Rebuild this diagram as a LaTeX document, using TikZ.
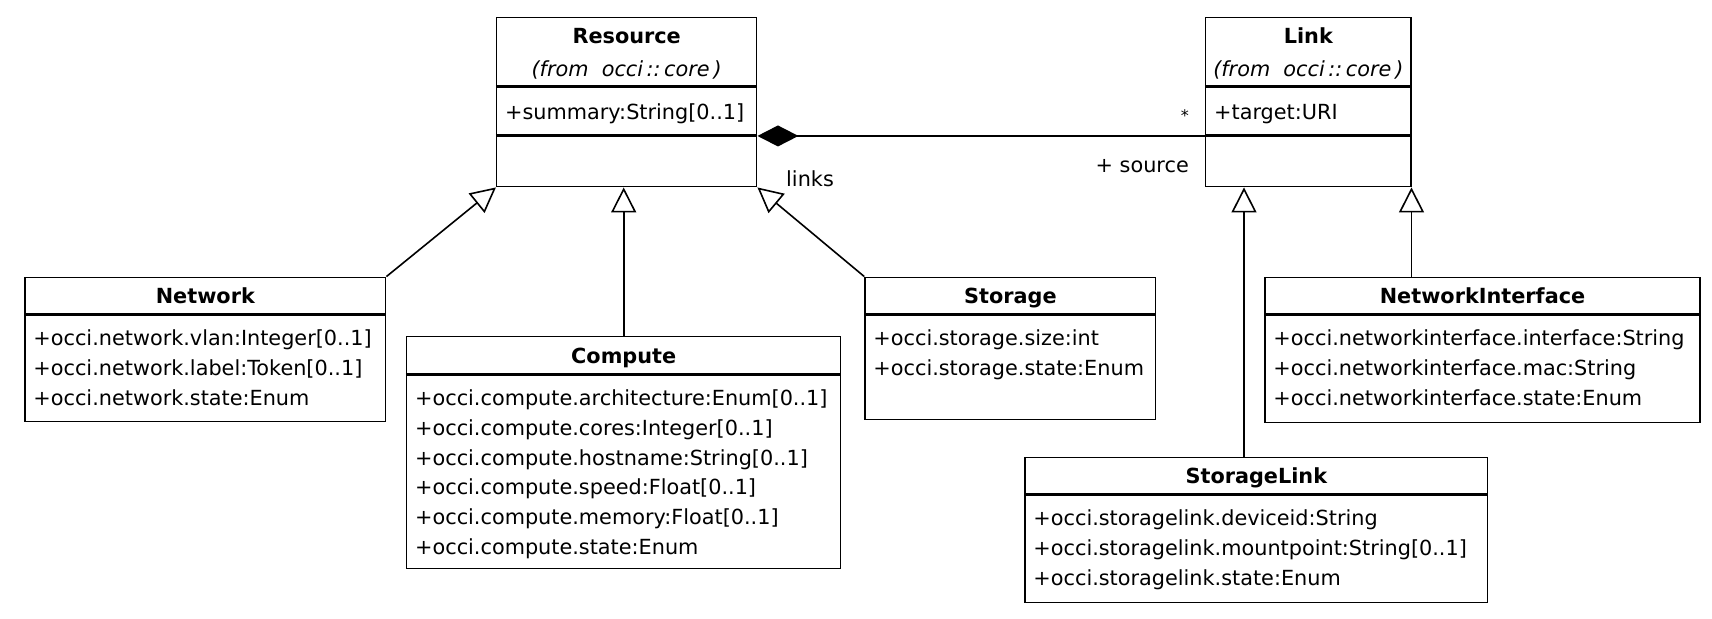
\documentclass[tikz,border=0pt]{standalone}
\usepackage{fontspec}
\setmainfont{DejaVu Sans}
\usetikzlibrary{arrows.meta,calc}
\begin{document}
\begin{tikzpicture}[x=1pt,y=-1pt,
  umlbox/.style={draw=black,line width=1.5pt,inner sep=0pt,fill=none},
  sepline/.style={line width=3pt,black},
  ttl/.style={anchor=base,inner sep=0pt,font=\fontsize{20.8}{25}\selectfont\bfseries},
  frm/.style={anchor=base,inner sep=0pt,font=\fontsize{20.8}{25}\selectfont\itshape},
  attr/.style={anchor=base west,inner sep=0pt,font=\fontsize{20.8}{25}\selectfont},
  lbl/.style={inner sep=0pt,font=\fontsize{20.8}{25}\selectfont},
  gen/.style={line width=1.6pt,-{Triangle[open,length=25pt,width=25pt,fill=white]}},
  comp/.style={line width=1.6pt,{Diamond[length=41pt,width=21pt,fill=black]}-}
]
\useasboundingbox (0,0) rectangle (1712,618);

% ---------- Resource ----------
\node[umlbox,minimum width=260pt,minimum height=169.4pt] (res) at (626.7,102) {};
\node[ttl] (res-t) at ($(res.north)+(0,26.7)$) {Resource};
\node[frm] (res-f) at ($(res.north)+(0,59.7)$) {(from\ \ occi\,::\,core\hspace{4pt})};
\draw[sepline] ($(res.north west)+(0,70)$) -- ($(res.north east)+(0,70)$);
\node[attr] (res-a1) at ($(res.north west)+(9,102.7)$) {+summary:String[0..1]};
\coordinate (rsep) at ($(res.north west)+(0,119.4)$);
\draw[sepline] (rsep) -- ($(res.north east)+(0,119.4)$);

% ---------- Link ----------
\node[umlbox,minimum width=205.3pt,minimum height=169.4pt] (link) at (1308.35,102) {};
\node[ttl] (link-t) at ($(link.north)+(0,26.7)$) {Link};
\node[frm] (link-f) at ($(link.north)+(0,59.7)$) {(from\ \ occi\,::\,core\hspace{4pt})};
\draw[sepline] ($(link.north west)+(0,70)$) -- ($(link.north east)+(0,70)$);
\node[attr] (link-a1) at ($(link.north west)+(9,102.7)$) {+target:URI};
\draw[sepline] ($(link.north west)+(0,119.4)$) -- ($(link.north east)+(0,119.4)$);

% ---------- Network ----------
\node[umlbox,minimum width=360.7pt,minimum height=144.4pt] (net) at (205.35,349.5) {};
\node[ttl] (net-t) at ($(net.north)+(0,26.7)$) {Network};
\draw[sepline] ($(net.north west)+(0,37.7)$) -- ($(net.north east)+(0,37.7)$);
\node[attr] (net-a1) at ($(net.north west)+(9,69.2)$) {+occi.network.vlan:Integer[0..1]};
\node[attr] (net-a2) at ($(net.north west)+(9,98.9)$) {+occi.network.label:Token[0..1]};
\node[attr] (net-a3) at ($(net.north west)+(9,128.6)$) {+occi.network.state:Enum};

% ---------- Compute ----------
\node[umlbox,minimum width=434pt,minimum height=232pt] (cmp) at (623.7,452.7) {};
\node[ttl] (cmp-t) at ($(cmp.north)+(0,27.3)$) {Compute};
\draw[sepline] ($(cmp.north west)+(0,38.3)$) -- ($(cmp.north east)+(0,38.3)$);
\node[attr] (cmp-a1) at ($(cmp.north west)+(9,69.8)$) {+occi.compute.architecture:Enum[0..1]};
\node[attr] (cmp-a2) at ($(cmp.north west)+(9,99.5)$) {+occi.compute.cores:Integer[0..1]};
\node[attr] (cmp-a3) at ($(cmp.north west)+(9,129.2)$) {+occi.compute.hostname:String[0..1]};
\node[attr] (cmp-a4) at ($(cmp.north west)+(9,158.9)$) {+occi.compute.speed:Float[0..1]};
\node[attr] (cmp-a5) at ($(cmp.north west)+(9,188.6)$) {+occi.compute.memory:Float[0..1]};
\node[attr] (cmp-a6) at ($(cmp.north west)+(9,218.3)$) {+occi.compute.state:Enum};

% ---------- Storage ----------
\node[umlbox,minimum width=290.7pt,minimum height=142pt] (sto) at (1010.35,348.3) {};
\node[ttl] (sto-t) at ($(sto.north)+(0,26.7)$) {Storage};
\draw[sepline] ($(sto.north west)+(0,37.7)$) -- ($(sto.north east)+(0,37.7)$);
\node[attr] (sto-a1) at ($(sto.north west)+(9,69.2)$) {+occi.storage.size:int};
\node[attr] (sto-a2) at ($(sto.north west)+(9,98.9)$) {+occi.storage.state:Enum};

% ---------- NetworkInterface ----------
\node[umlbox,minimum width=435pt,minimum height=145pt] (ni) at (1482.5,349.8) {};
\node[ttl] (ni-t) at ($(ni.north)+(0,26.7)$) {NetworkInterface};
\draw[sepline] ($(ni.north west)+(0,37.7)$) -- ($(ni.north east)+(0,37.7)$);
\node[attr] (ni-a1) at ($(ni.north west)+(9,69.2)$) {+occi.networkinterface.interface:String};
\node[attr] (ni-a2) at ($(ni.north west)+(9,98.9)$) {+occi.networkinterface.mac:String};
\node[attr] (ni-a3) at ($(ni.north west)+(9,128.6)$) {+occi.networkinterface.state:Enum};

% ---------- StorageLink ----------
\node[umlbox,minimum width=462.7pt,minimum height=145pt] (sl) at (1256.35,529.8) {};
\node[ttl] (sl-t) at ($(sl.north)+(0,26.7)$) {StorageLink};
\draw[sepline] ($(sl.north west)+(0,37.7)$) -- ($(sl.north east)+(0,37.7)$);
\node[attr] (sl-a1) at ($(sl.north west)+(9,69.2)$) {+occi.storagelink.deviceid:String};
\node[attr] (sl-a2) at ($(sl.north west)+(9,98.9)$) {+occi.storagelink.mountpoint:String[0..1]};
\node[attr] (sl-a3) at ($(sl.north west)+(9,128.6)$) {+occi.storagelink.state:Enum};

% ---------- Generalisations ----------
\draw[gen] (net.north east) -- (res.south west);
\draw[gen] (cmp.north) -- (cmp.north |- res.south);
\draw[gen] (sto.north west) -- (res.south east);
\coordinate (slx) at (1244,0);
\coordinate (nix) at (1411.5,0);
\draw[gen] (slx |- sl.north) -- (slx |- link.south);
\draw[gen] (nix |- ni.north) -- (nix |- link.south);

% ---------- Composition ----------
\draw[comp] (res.east |- rsep) -- (link.west |- rsep);
\node[lbl,anchor=base west] (lk) at (786,186) {links};
\node[inner sep=0pt,font=\fontsize{16}{19}\selectfont,anchor=base east] (star) at (1189,121) {*};
\node[lbl,anchor=base east] (src) at (1189,172) {+ source};
\end{tikzpicture}
\end{document}
